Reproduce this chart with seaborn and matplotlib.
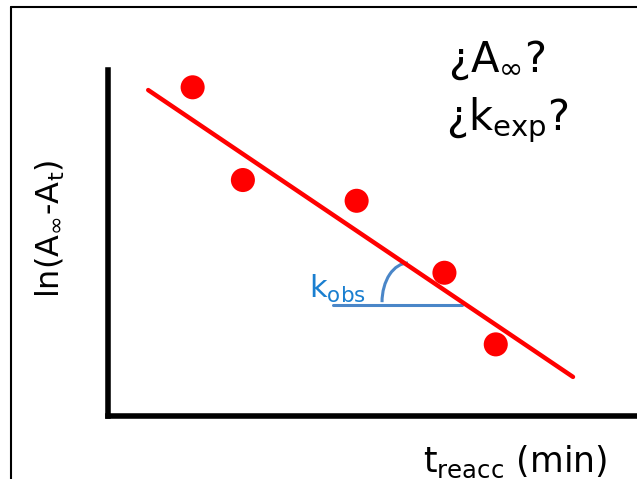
import numpy as np
import pandas as pd
import matplotlib
matplotlib.use('Agg')
import matplotlib.pyplot as plt
from matplotlib.lines import Line2D
from matplotlib.patches import Arc
import seaborn as sns

# points (arbitrary units, axes 0..10)
t_reacc = [1.60, 2.55, 4.70, 6.36, 7.33]
ln_diff = [9.50, 6.82, 6.22, 4.14, 2.07]

# hand drawn fit line
fit_x = [0.76, 8.79]
fit_y = [9.42, 1.13]

# slope marker (k_obs)
base_x = [4.25, 6.69]
base_y = [3.21, 3.21]

sns.set_style('white')
plt.rcParams['font.family'] = ['DejaVu Sans']
plt.rcParams['text.color'] = 'black'

fig = plt.figure(figsize=(6.37, 4.79), dpi=100)
ax = fig.add_axes([108/637, 1-416/479, 1-108/637, (416-70)/479])

df = pd.DataFrame({'t': t_reacc, 'ln': ln_diff})
sns.lineplot(x=fit_x, y=fit_y, ax=ax, color='#ff0000', lw=3.2, zorder=2)
sns.scatterplot(data=df, x='t', y='ln', ax=ax, color='#ff0000', s=300,
                marker='o', edgecolor='none', zorder=3)

sns.lineplot(x=base_x, y=base_y, ax=ax, color='#4a86c8', lw=2.2, zorder=1)
ax.add_patch(Arc((5.67, 3.29), 0.98, 2.26, theta1=90, theta2=180,
                 color='#4a86c8', lw=2.2))
ax.text(3.80, 3.41, r'$\mathregular{k_{obs}}$', color='#1a7fd0',
        fontsize=22, va='baseline', ha='left')

ax.set_xlim(0, 10)
ax.set_ylim(0, 10)
ax.set_xticks([])
ax.set_yticks([])
ax.set_xlabel('')
ax.set_ylabel('')
for s in ['top', 'right']:
    ax.spines[s].set_visible(False)
for s in ['left', 'bottom']:
    ax.spines[s].set_color('black')
    ax.spines[s].set_linewidth(4)

# labels
fig.text(50/637, 1-229/479, r'ln(A$_\infty$-A$_\mathregular{t}$)', rotation=90,
         fontsize=23, ha='center', va='center')
fig.text(515/637, 1-462/479, r't$_\mathregular{reacc}$ (min)', fontsize=25,
         ha='center', va='center')

# questions top right
fig.text(497/637, 1-60/479, r'¿A$_\infty$?', fontsize=30, ha='center', va='center')
fig.text(507/637, 1-120/479, r'¿k$_\mathregular{exp}$?', fontsize=30, ha='center', va='center')

# partial frame
fig.add_artist(Line2D([11/637, 11/637], [0, 1-7/479], color='black', lw=1.5))
fig.add_artist(Line2D([11/637, 1], [1-7/479, 1-7/479], color='black', lw=1.5))

fig.savefig('out.png', dpi=100)
